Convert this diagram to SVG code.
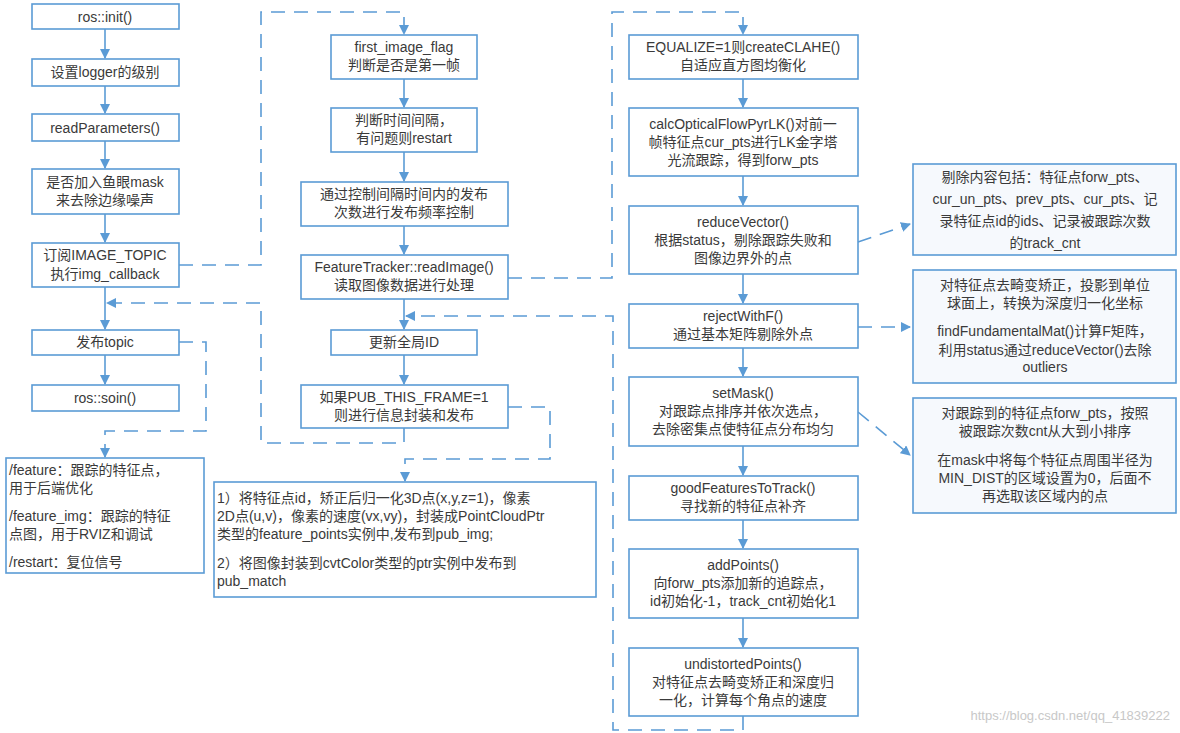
<svg xmlns="http://www.w3.org/2000/svg" width="1180" height="733" viewBox="0 0 1180 733">
<style>
rect{fill:#fff;stroke:#5b9bd5;stroke-width:1.6}
rect.n{fill:#f6f9fd}
text{font-family:"Liberation Sans","Noto Sans CJK SC",sans-serif;font-size:14px;fill:#3a3a3a;text-anchor:middle}
text.l{text-anchor:start}
.c path{fill:none;stroke:#5b9bd5;stroke-width:1.6}
.c path.d{stroke-dasharray:14,9}
</style>
<defs><marker id="a" markerWidth="10" markerHeight="10" refX="9" refY="5" orient="auto" markerUnits="userSpaceOnUse"><path d="M0,0 L10,5 L0,10 z" fill="#5b9bd5"/></marker></defs>
<g class="c">
<path d="M105,29V58" marker-end="url(#a)"/>
<path d="M105,86V113" marker-end="url(#a)"/>
<path d="M105,141V168" marker-end="url(#a)"/>
<path d="M105,214V242" marker-end="url(#a)"/>
<path d="M105,287V329" marker-end="url(#a)"/>
<path d="M105,355V384" marker-end="url(#a)"/>
<path d="M404,79V107" marker-end="url(#a)"/>
<path d="M404,152V181" marker-end="url(#a)"/>
<path d="M404,226V254" marker-end="url(#a)"/>
<path d="M404,299V329" marker-end="url(#a)"/>
<path d="M404,355V384" marker-end="url(#a)"/>
<path d="M743,79V107" marker-end="url(#a)"/>
<path d="M743,176V205" marker-end="url(#a)"/>
<path d="M743,274V303" marker-end="url(#a)"/>
<path d="M743,348V376" marker-end="url(#a)"/>
<path d="M743,446V475" marker-end="url(#a)"/>
<path d="M743,520V548" marker-end="url(#a)"/>
<path d="M743,618V647" marker-end="url(#a)"/>
<path class="d" d="M179,265H261V12H404V34" marker-end="url(#a)"/>
<path class="d" d="M404,428V443H261V303H107" marker-end="url(#a)"/>
<path class="d" d="M179,342H206V431H105V457" marker-end="url(#a)"/>
<path class="d" d="M508,407H550V459H405V481" marker-end="url(#a)"/>
<path class="d" d="M508,278H612V12H743V34" marker-end="url(#a)"/>
<path class="d" d="M743,716V730H613V316H406" marker-end="url(#a)"/>
<path class="d" d="M858,242L910,224" marker-end="url(#a)"/>
<path class="d" d="M858,327H910" marker-end="url(#a)"/>
<path class="d" d="M858,412L910,455" marker-end="url(#a)"/>
</g>
<g id="n1"><rect x="32" y="4" width="147" height="25"/><text x="105" y="22">ros::init()</text></g>
<g id="n2"><rect x="32" y="59" width="147" height="27"/><text x="105" y="77">设置logger的级别</text></g>
<g id="n3"><rect x="32" y="114" width="147" height="27"/><text x="105" y="133">readParameters()</text></g>
<g id="n4"><rect x="32" y="169" width="147" height="45"/><text x="105" y="187">是否加入鱼眼mask</text><text x="105" y="205">来去除边缘噪声</text></g>
<g id="n5"><rect x="32" y="243" width="147" height="44"/><text x="105" y="260">订阅IMAGE_TOPIC</text><text x="105" y="279">执行img_callback</text></g>
<g id="n6"><rect x="32" y="330" width="147" height="25"/><text x="105" y="347">发布topic</text></g>
<g id="n7"><rect x="32" y="385" width="147" height="26"/><text x="105" y="403">ros::soin()</text></g>
<g id="n8"><rect x="6" y="458" width="198" height="115"/><text class="l" x="9" y="475">/feature：跟踪的特征点，</text><text class="l" x="9" y="493">用于后端优化</text><text class="l" x="9" y="521">/feature_img：跟踪的特征</text><text class="l" x="9" y="539">点图，用于RVIZ和调试</text><text class="l" x="9" y="567">/restart：复位信号</text></g>
<g id="m1"><rect x="331" y="35" width="146" height="44"/><text x="404" y="52">first_image_flag</text><text x="404" y="70">判断是否是第一帧</text></g>
<g id="m2"><rect x="331" y="108" width="146" height="44"/><text x="404" y="125">判断时间间隔，</text><text x="404" y="143">有问题则restart</text></g>
<g id="m3"><rect x="301" y="182" width="207" height="44"/><text x="404" y="199">通过控制间隔时间内的发布</text><text x="404" y="217">次数进行发布频率控制</text></g>
<g id="m4"><rect x="301" y="255" width="207" height="44"/><text x="404" y="272">FeatureTracker::readImage()</text><text x="404" y="290">读取图像数据进行处理</text></g>
<g id="m5"><rect x="331" y="330" width="146" height="25"/><text x="404" y="347">更新全局ID</text></g>
<g id="m6"><rect x="301" y="385" width="207" height="43"/><text x="404" y="402">如果PUB_THIS_FRAME=1</text><text x="404" y="420">则进行信息封装和发布</text></g>
<g id="m7"><rect x="214" y="482" width="382" height="115"/><text class="l" x="217" y="503">1）将特征点id，矫正后归一化3D点(x,y,z=1)，像素</text><text class="l" x="217" y="521">2D点(u,v)，像素的速度(vx,vy)，封装成PointCloudPtr</text><text class="l" x="217" y="539">类型的feature_points实例中,发布到pub_img;</text><text class="l" x="217" y="568">2）将图像封装到cvtColor类型的ptr实例中发布到</text><text class="l" x="217" y="586">pub_match</text></g>
<g id="r1"><rect x="629" y="35" width="229" height="44"/><text x="743" y="52">EQUALIZE=1则createCLAHE()</text><text x="743" y="70">自适应直方图均衡化</text></g>
<g id="r2"><rect x="629" y="108" width="229" height="68"/><text x="743" y="129">calcOpticalFlowPyrLK()对前一</text><text x="743" y="147">帧特征点cur_pts进行LK金字塔</text><text x="743" y="165">光流跟踪，得到forw_pts</text></g>
<g id="r3"><rect x="629" y="206" width="229" height="68"/><text x="743" y="227">reduceVector()</text><text x="743" y="245">根据status，剔除跟踪失败和</text><text x="743" y="263">图像边界外的点</text></g>
<g id="r4"><rect x="629" y="304" width="229" height="44"/><text x="743" y="321">rejectWithF()</text><text x="743" y="339">通过基本矩阵剔除外点</text></g>
<g id="r5"><rect x="629" y="377" width="229" height="69"/><text x="743" y="398">setMask()</text><text x="743" y="416">对跟踪点排序并依次选点，</text><text x="743" y="434">去除密集点使特征点分布均匀</text></g>
<g id="r6"><rect x="629" y="476" width="229" height="44"/><text x="743" y="493">goodFeaturesToTrack()</text><text x="743" y="511">寻找新的特征点补齐</text></g>
<g id="r7"><rect x="629" y="549" width="229" height="69"/><text x="743" y="570">addPoints()</text><text x="743" y="588">向forw_pts添加新的追踪点，</text><text x="743" y="606">id初始化-1，track_cnt初始化1</text></g>
<g id="r8"><rect x="629" y="648" width="229" height="68"/><text x="743" y="669">undistortedPoints()</text><text x="743" y="687">对特征点去畸变矫正和深度归</text><text x="743" y="705">一化，计算每个角点的速度</text></g>
<g id="t1"><rect class="n" x="913" y="164" width="263" height="91"/><text x="1045" y="182">剔除内容包括：特征点forw_pts、</text><text x="1045" y="204">cur_un_pts、prev_pts、cur_pts、记</text><text x="1045" y="226">录特征点id的ids、记录被跟踪次数</text><text x="1045" y="248">的track_cnt</text></g>
<g id="t2"><rect class="n" x="913" y="270" width="263" height="113"/><text x="1045" y="290">对特征点去畸变矫正，投影到单位</text><text x="1045" y="308">球面上，转换为深度归一化坐标</text><text x="1045" y="336">findFundamentalMat()计算F矩阵，</text><text x="1045" y="355">利用status通过reduceVector()去除</text><text x="1045" y="372">outliers</text></g>
<g id="t3"><rect class="n" x="913" y="398" width="263" height="115"/><text x="1045" y="418">对跟踪到的特征点forw_pts，按照</text><text x="1045" y="436">被跟踪次数cnt从大到小排序</text><text x="1045" y="465">在mask中将每个特征点周围半径为</text><text x="1045" y="483">MIN_DIST的区域设置为0，后面不</text><text x="1045" y="501">再选取该区域内的点</text></g>
<text x="1170" y="720" style="text-anchor:end;fill:#c8c8c8;font-size:13px">https://blog.csdn.net/qq_41839222</text>
</svg>
